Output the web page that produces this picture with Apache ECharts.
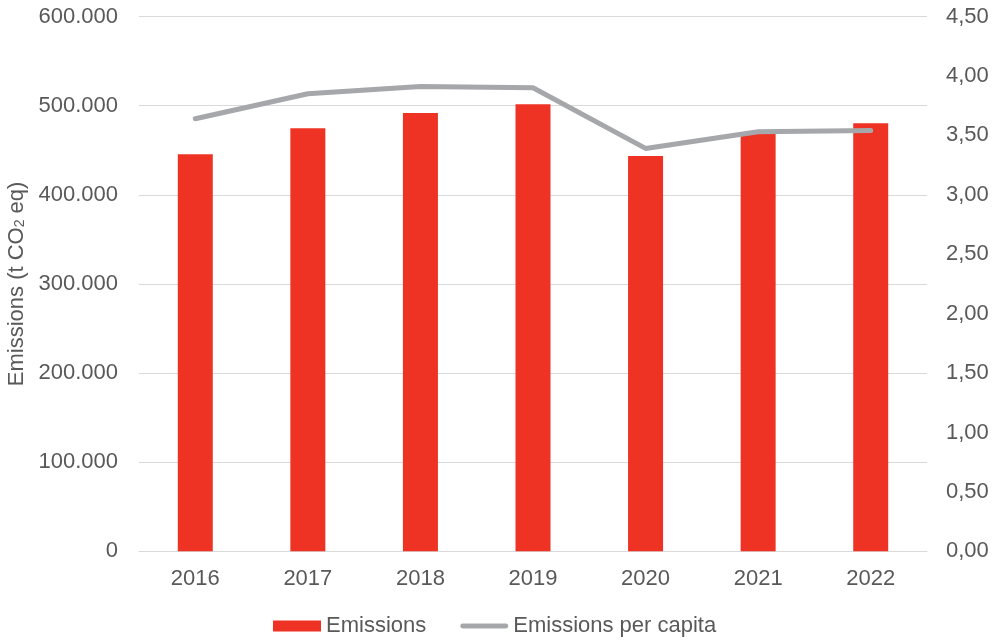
<!DOCTYPE html>
<html>
<head>
<meta charset="utf-8">
<script src="https://cdn.jsdelivr.net/npm/echarts@6/dist/echarts.min.js"></script>
<style>html,body{margin:0;padding:0;background:#fff;}#c{width:995px;height:640px;}</style>
</head>
<body>
<div id="c"></div>
<script>
const years = ['2016','2017','2018','2019','2020','2021','2022'];
const emissions = [445400, 474500, 491700, 501500, 443500, 470500, 480200];
const perCapita = [3.64, 3.85, 3.91, 3.90, 3.39, 3.53, 3.54];
const leftTicks = {min: 0, max: 600000, interval: 100000};
const rightTicks = {min: 0, max: 4.5, interval: 0.5};

const FONT = '"Liberation Sans", Arial, sans-serif';
const TXT = '#595959';
const chart = echarts.init(document.getElementById('c'), null, {renderer: 'canvas'});
chart.setOption({
  animation: false,
  backgroundColor: '#fff',
  textStyle: {fontFamily: FONT, color: TXT},
  grid: {left: 139, right: 68, top: 16.5, bottom: 88.7, containLabel: false, outerBoundsMode: 'none'},
  legend: {
    left: 268, top: 610,
    itemWidth: 48, itemHeight: 11, itemGap: 34,
    textStyle: {fontFamily: FONT, fontSize: 22, color: TXT},
    data: [
      {name: 'Emissions', icon: 'rect'},
      {name: 'Emissions per capita',
       icon: 'path://M2.5,0 L47.5,0 A2.5,2.5 0 0 1 47.5,5 L2.5,5 A2.5,2.5 0 0 1 2.5,0 Z',
       itemStyle: {color: '#A6A7AA'}}
    ]
  },
  xAxis: {
    type: 'category', data: years,
    axisLine: {lineStyle: {color: '#D9D9D9', width: 1}},
    axisTick: {show: false},
    axisLabel: {fontFamily: FONT, fontSize: 22, color: TXT, margin: 17}
  },
  yAxis: [{
    type: 'value', min: leftTicks.min, max: leftTicks.max, interval: leftTicks.interval,
    name: 'Emissions (t CO{sub|2} eq)', nameLocation: 'middle', nameGap: 103, nameRotate: 90,
    nameTextStyle: {fontFamily: FONT, fontSize: 22, color: TXT,
      rich: {sub: {fontFamily: FONT, fontSize: 14, color: TXT, padding: [8, 0, 0, 0]}}},
    axisLine: {show: false}, axisTick: {show: false},
    splitLine: {lineStyle: {color: '#D9D9D9', width: 1}},
    axisLabel: {fontFamily: FONT, fontSize: 22, color: TXT, margin: 21,
      formatter: v => String(v).replace(/\B(?=(\d{3})+(?!\d))/g, '.')}
  }, {
    type: 'value', min: rightTicks.min, max: rightTicks.max, interval: rightTicks.interval,
    position: 'right',
    axisLine: {show: false}, axisTick: {show: false}, splitLine: {show: false},
    axisLabel: {fontFamily: FONT, fontSize: 22, color: TXT, margin: 19,
      formatter: v => v.toFixed(2).replace('.', ',')}
  }],
  series: [{
    name: 'Emissions', type: 'bar', data: emissions, barWidth: 35,
    itemStyle: {color: '#EE3324'}
  }, {
    name: 'Emissions per capita', type: 'line', yAxisIndex: 1, data: perCapita,
    symbol: 'none', smooth: false,
    lineStyle: {color: '#A6A7AA', width: 5, cap: 'round', join: 'round'},
    itemStyle: {color: '#A6A7AA'}
  }]
});
</script>
</body>
</html>
